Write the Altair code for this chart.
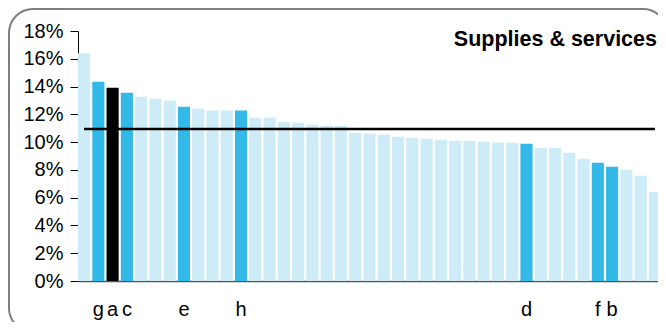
import json
import altair as alt
import pandas as pd

# ---- data ----
values = [16.4, 14.35, 13.92, 13.56, 13.27, 13.13, 12.98, 12.55, 12.41, 12.27,
          12.27, 12.27, 11.76, 11.76, 11.47, 11.40, 11.25, 11.18, 11.18, 10.68,
          10.6, 10.53, 10.39, 10.32, 10.24, 10.17, 10.10, 10.10, 10.03, 9.96,
          9.96, 9.88, 9.6, 9.6, 9.24, 8.8, 8.52, 8.23, 8.01, 7.58, 6.43]
labels = ["", "g", "a", "c", "", "", "", "e", "", "", "", "h", "", "", "", "", "",
          "", "", "", "", "", "", "", "", "", "", "", "", "", "", "d", "", "", "",
          "", "f", "b", "", "", ""]
kinds = ["other", "peer", "focus", "peer", "other", "other", "other", "peer",
         "other", "other", "other", "peer", "other", "other", "other", "other",
         "other", "other", "other", "other", "other", "other", "other", "other",
         "other", "other", "other", "other", "other", "other", "other", "peer",
         "other", "other", "other", "other", "peer", "peer", "other", "other",
         "other"]
average = 10.95
title_text = "Supplies & services"
y_ticks = [0, 2, 4, 6, 8, 10, 12, 14, 16, 18]

df = pd.DataFrame({
    "idx": list(range(len(values))),
    "value": values,
    "kind": kinds,
    "avg": [average] * len(values),
})

FONT = "Liberation Sans"
label_expr = json.dumps(labels) + "[datum.value]"

x_axis = alt.Axis(
    title=None, labelExpr=label_expr, labelAngle=0, ticks=False,
    labelFont=FONT, labelFontSize=20, labelColor="#000000",
    labelBaseline="alphabetic", labelPadding=34, labelOverlap=False,
    domainColor="#555555", domainWidth=1.5,
)
y_axis = alt.Axis(
    title=None, values=y_ticks, labelExpr="datum.value + '%'",
    labelFont=FONT, labelFontSize=20, labelColor="#000000",
    labelPadding=7, tickSize=8, tickColor="#000000",
    labelOverlap=False, labelFlush=False, tickCount=10,
    domainColor="#000000", grid=False,
)
x_scale = alt.Scale(paddingInner=0.15, paddingOuter=0)
y_scale = alt.Scale(domain=[0, 18], nice=False)

bars = alt.Chart(df).mark_bar().encode(
    x=alt.X("idx:O", sort=None, scale=x_scale, axis=x_axis),
    y=alt.Y("value:Q", scale=y_scale, axis=y_axis),
    color=alt.Color(
        "kind:N",
        scale=alt.Scale(domain=["other", "peer", "focus"],
                        range=["#cdecf8", "#33b9e8", "#000000"]),
        legend=None,
    ),
)

avg_line = alt.Chart(df).mark_line(color="#000000", strokeWidth=2.5).encode(
    x=alt.X("idx:O", sort=None, scale=x_scale, axis=x_axis),
    y=alt.Y("avg:Q", scale=y_scale, axis=y_axis),
)

title_mark = alt.Chart(pd.DataFrame({"t": [title_text]})).mark_text(
    font=FONT, fontSize=21.5, fontWeight="bold", align="right",
    baseline="alphabetic", color="#000000",
).encode(text="t:N", x=alt.value(579), y=alt.value(15))

frame = alt.Chart(pd.DataFrame({"f": [1]})).mark_rect(
    fillOpacity=0, stroke="#7f7f7f", strokeWidth=2, cornerRadius=24,
).encode(x=alt.value(-69), x2=alt.value(589), y=alt.value(-22), y2=alt.value(301))

chart = alt.layer(frame, bars, avg_line, title_mark).properties(
    width=583, height=250,
    padding={"left": 70, "top": 23, "right": -3, "bottom": 41},
    autosize="none",
).configure_view(stroke=None)

chart.save("out.html", embed_options={"renderer": "svg", "actions": False})
